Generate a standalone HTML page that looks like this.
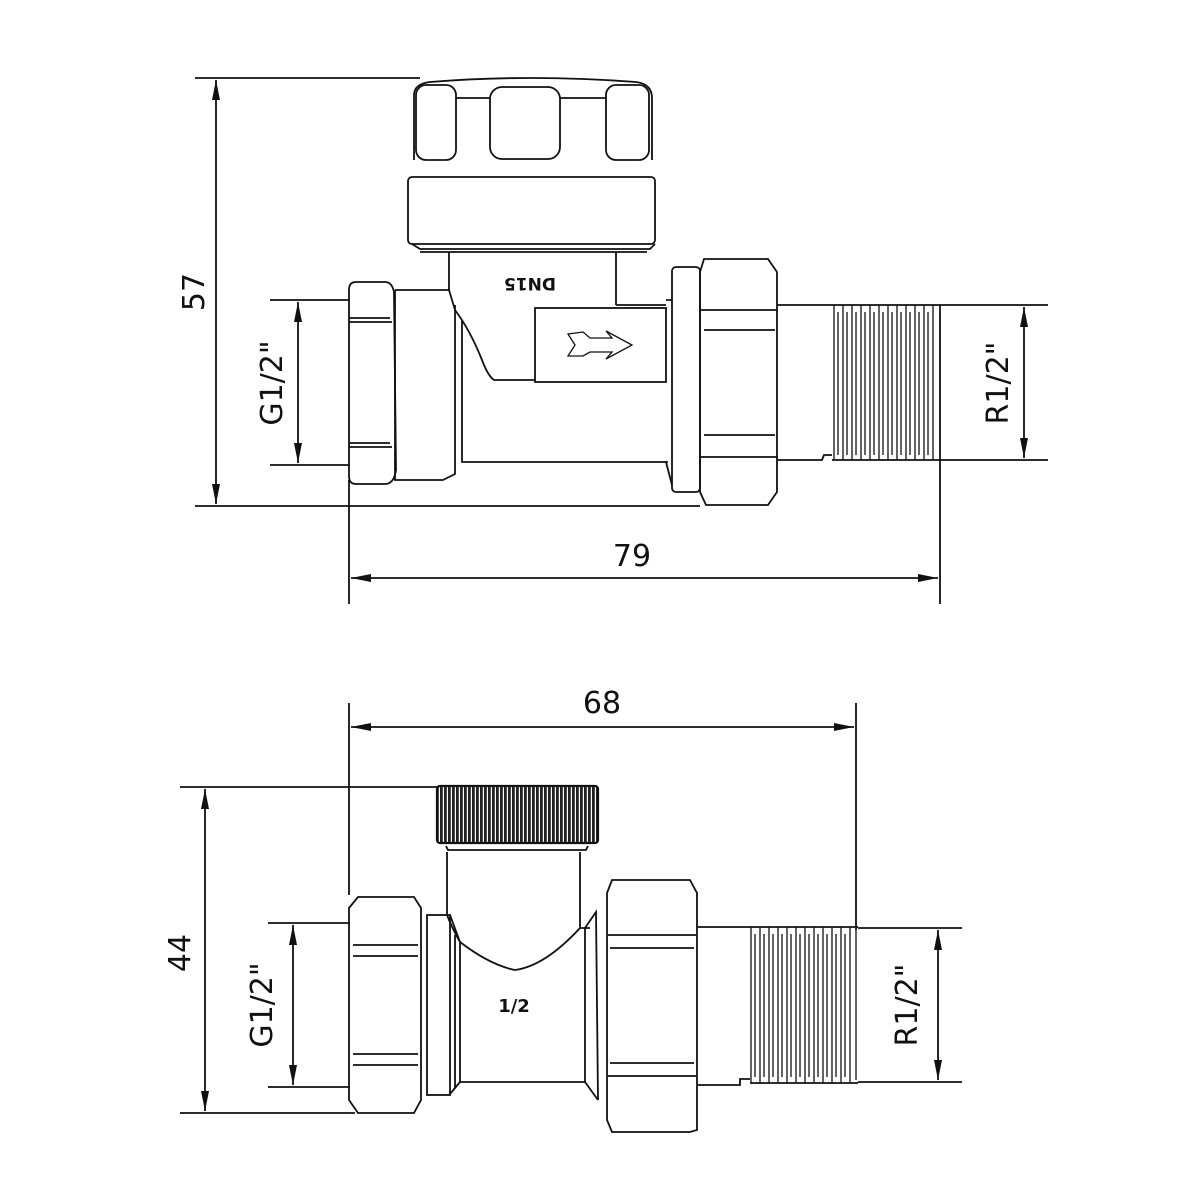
<!DOCTYPE html>
<html><head><meta charset="utf-8"><style>html,body{margin:0;padding:0;background:#fff}svg{display:block}</style></head><body>
<svg width="1200" height="1200" viewBox="0 0 1200 1200" xmlns="http://www.w3.org/2000/svg" font-family="DejaVu Sans, Liberation Sans, sans-serif">
<defs>
<marker id="a" viewBox="0 0 20 8" refX="20" refY="4" markerWidth="20" markerHeight="8" markerUnits="userSpaceOnUse" orient="auto-start-reverse"><path d="M0,0 L20,4 L0,8 Z" fill="#111"/></marker>
<pattern id="knurl" width="4" height="10" patternUnits="userSpaceOnUse"><rect width="4" height="10" fill="#fff"/><rect width="2.8" height="10" fill="#222"/></pattern>
</defs>
<g stroke="#111" stroke-width="1.8" fill="none">
<!-- ===== TOP DIMENSIONS ===== -->
<line x1="195" y1="78" x2="420" y2="78"/>
<line x1="195" y1="506" x2="700" y2="506"/>
<line x1="216" y1="80" x2="216" y2="504" marker-start="url(#a)" marker-end="url(#a)"/>
<line x1="270" y1="300" x2="349" y2="300"/>
<line x1="270" y1="465" x2="349" y2="465"/>
<line x1="298" y1="302" x2="298" y2="463" marker-start="url(#a)" marker-end="url(#a)"/>
<line x1="940" y1="305" x2="1048" y2="305"/>
<line x1="940" y1="460" x2="1048" y2="460"/>
<line x1="1024" y1="307" x2="1024" y2="458" marker-start="url(#a)" marker-end="url(#a)"/>
<line x1="349" y1="480" x2="349" y2="604"/>
<line x1="940" y1="460" x2="940" y2="604"/>
<line x1="351" y1="578" x2="938" y2="578" marker-start="url(#a)" marker-end="url(#a)"/>

<!-- ===== TOP VALVE ===== -->
<path d="M414,160 L414,95 Q414,84 430,82 Q530,74 636,82 Q652,84 652,98 L652,160"/>
<rect x="416" y="85" width="40" height="75" rx="10"/>
<rect x="490" y="87" width="70" height="72" rx="12"/>
<rect x="606" y="85" width="43" height="75" rx="10"/>
<line x1="456" y1="98" x2="490" y2="98"/><line x1="560" y1="98" x2="606" y2="98"/>
<rect x="408" y="177" width="247" height="67" rx="4"/>
<path d="M412,244 L420,249 L650,249 L655,244"/>
<line x1="420" y1="252" x2="647" y2="252"/>
<!-- neck -->
<path d="M449,252 L449,290 M616,252 L616,305"/>
<!-- body -->
<path d="M395,290 L449,290 Q452,300 455,310 Q470,330 482,360 Q488,376 494,380 L535,380"/>
<rect x="535" y="308" width="131" height="74"/>
<path d="M568,334 L583,332 L590,338 L612,338 L606,331 L632,345 L606,359 L612,352 L590,352 L583,356 L568,356 L575,345 Z" stroke-width="1.3"/>
<path d="M616,305 L666,305"/>
<path d="M462,320 L462,462 L668,462"/>
<path d="M395,290 L395,480 L443,480 L455,474 L455,305"/>
<!-- left nut -->
<path d="M349,290 Q349,282 356,282 L385,282 Q392,282 394,292 L396,470 Q394,484 385,484 L356,484 Q349,484 349,476 Z"/>
<line x1="349" y1="318" x2="390" y2="318"/><line x1="349" y1="322" x2="392" y2="322"/>
<line x1="349" y1="443" x2="390" y2="443"/><line x1="349" y1="447" x2="392" y2="447"/>
<!-- right flange + nut -->
<path d="M666,300 L672,300 M666,462 L672,485"/>
<rect x="672" y="267" width="28" height="225" rx="4"/>
<path d="M704,259 L768,259 L777,272 L777,492 L768,505 L706,505 L700,492 L700,272 Z"/>
<line x1="700" y1="310" x2="777" y2="310"/><line x1="704" y1="330" x2="775" y2="330"/>
<line x1="704" y1="435" x2="775" y2="435"/><line x1="700" y1="457" x2="777" y2="457"/>
<!-- tail + thread -->
<path d="M777,305 L832,305 M777,460 L822,460 L824,455 L832,455"/>
<path d="M832,305 L940,305 M832,460 L940,460 M940,305 L940,460"/>
<g stroke-width="1.3">
<path d="M834,305 L834,460 M843,305 L843,460 M852,305 L852,460 M861,305 L861,460 M870,305 L870,460 M879,305 L879,460 M888,305 L888,460 M897,305 L897,460 M906,305 L906,460 M915,305 L915,460 M924,305 L924,460 M933,305 L933,460"/>
<path d="M838,312 L838,455 M847,312 L847,455 M856,312 L856,455 M865,312 L865,455 M874,312 L874,455 M883,312 L883,455 M892,312 L892,455 M901,312 L901,455 M910,312 L910,455 M919,312 L919,455 M928,312 L928,455"/>
</g>

<!-- ===== BOTTOM DIMENSIONS ===== -->
<line x1="349" y1="703" x2="349" y2="895"/>
<line x1="856" y1="703" x2="856" y2="930"/>
<line x1="351" y1="727" x2="854" y2="727" marker-start="url(#a)" marker-end="url(#a)"/>
<line x1="180" y1="787" x2="440" y2="787"/>
<line x1="180" y1="1113" x2="355" y2="1113"/>
<line x1="205" y1="789" x2="205" y2="1111" marker-start="url(#a)" marker-end="url(#a)"/>
<line x1="268" y1="923" x2="350" y2="923"/>
<line x1="268" y1="1087" x2="350" y2="1087"/>
<line x1="293" y1="925" x2="293" y2="1085" marker-start="url(#a)" marker-end="url(#a)"/>
<line x1="858" y1="928" x2="962" y2="928"/>
<line x1="858" y1="1082" x2="962" y2="1082"/>
<line x1="938" y1="930" x2="938" y2="1080" marker-start="url(#a)" marker-end="url(#a)"/>

<!-- ===== BOTTOM VALVE ===== -->
<rect x="437" y="786" width="161" height="57" rx="3" fill="url(#knurl)" stroke-width="2.2"/>
<path d="M446,846 L448,850 L586,850 L588,846"/>
<line x1="447" y1="852" x2="447" y2="915"/><line x1="580" y1="852" x2="580" y2="928"/>
<path d="M358,897 L414,897 L421,908 L421,1100 L414,1113 L358,1113 L349,1100 L349,908 Z"/>
<line x1="353" y1="945" x2="418" y2="945"/><line x1="353" y1="956" x2="418" y2="956"/>
<line x1="353" y1="1054" x2="418" y2="1054"/><line x1="353" y1="1065" x2="418" y2="1065"/>
<rect x="427" y="915" width="23" height="180"/>
<path d="M447,915 Q452,928 460,942 M450,915 L460,942 L460,1082 L450,1094"/>
<line x1="455" y1="935" x2="455" y2="1088"/>
<path d="M460,942 Q490,965 515,970 Q545,966 580,928 L590,928"/>
<line x1="460" y1="1082" x2="585" y2="1082"/>
<path d="M585,928 L585,1082 L598,1100 M585,928 L596,912 L598,1100"/>
<path d="M612,880 L690,880 L697,893 L697,1130 L690,1132 L612,1132 L607,1120 L607,893 Z"/>
<line x1="608" y1="935" x2="696" y2="935"/><line x1="610" y1="948" x2="694" y2="948"/>
<line x1="610" y1="1063" x2="694" y2="1063"/><line x1="608" y1="1076" x2="696" y2="1076"/>
<path d="M697,927 L750,927 M697,1085 L740,1085 L740,1079 L750,1079"/>
<path d="M750,927 L858,927 M750,1083 L858,1083"/>
<g stroke-width="1.3">
<path d="M751,927 L751,1083 M760,927 L760,1083 M769,927 L769,1083 M778,927 L778,1083 M787,927 L787,1083 M796,927 L796,1083 M805,927 L805,1083 M814,927 L814,1083 M823,927 L823,1083 M832,927 L832,1083 M841,927 L841,1083 M850,927 L850,1083 M856,930 L856,1080"/>
<path d="M755,934 L755,1077 M764,934 L764,1077 M773,934 L773,1077 M782,934 L782,1077 M791,934 L791,1077 M800,934 L800,1077 M809,934 L809,1077 M818,934 L818,1077 M827,934 L827,1077 M836,934 L836,1077 M845,934 L845,1077"/>
</g>
</g>

<g fill="#111" font-size="30">
<text x="632" y="566" text-anchor="middle">79</text>
<text x="602" y="713" text-anchor="middle">68</text>
<text transform="translate(204,292) rotate(-90)" text-anchor="middle">57</text>
<text transform="translate(282,383) rotate(-90)" text-anchor="middle">G1/2"</text>
<text transform="translate(1008,383) rotate(-90)" text-anchor="middle">R1/2"</text>
<text transform="translate(190,953) rotate(-90)" text-anchor="middle">44</text>
<text transform="translate(272,1005) rotate(-90)" text-anchor="middle">G1/2"</text>
<text transform="translate(917,1005) rotate(-90)" text-anchor="middle">R1/2"</text>
</g>
<text transform="translate(530,278) rotate(180)" text-anchor="middle" font-size="17" font-weight="bold" fill="#111">DN15</text>
<text x="514" y="1012" text-anchor="middle" font-size="18" font-weight="bold" fill="#111">1/2</text>
</svg>
</body></html>
